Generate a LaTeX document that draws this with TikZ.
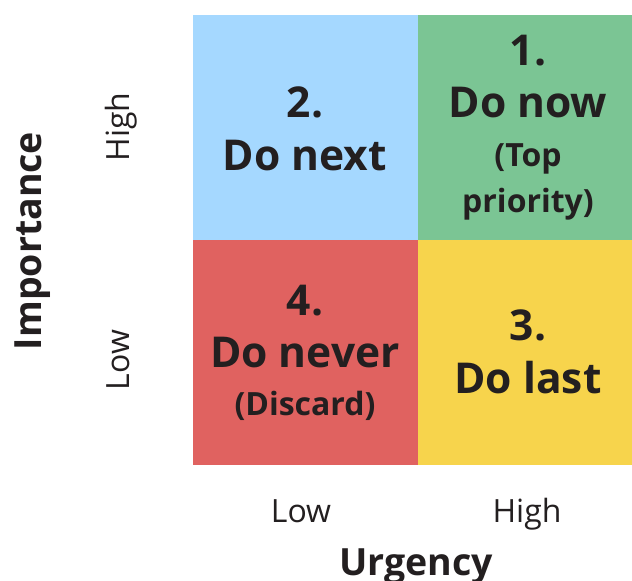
\documentclass[tikz,border=0pt]{standalone}
\usepackage{fontspec}
\setmainfont{Open Sans}
\definecolor{cblue}{HTML}{A5D8FF}
\definecolor{cgreen}{HTML}{7BC594}
\definecolor{cred}{HTML}{E06260}
\definecolor{cyellow}{HTML}{F7D44C}
\definecolor{ink}{HTML}{231F20}
\begin{document}
\begin{tikzpicture}[x=1pt,y=-1pt,
  big/.style={anchor=base,text=ink,font=\fontsize{42.5}{42.5}\selectfont\bfseries,inner sep=0pt},
  small/.style={anchor=base,text=ink,font=\fontsize{32}{32}\selectfont\bfseries,inner sep=0pt},
  axlab/.style={anchor=base,text=ink,font=\fontsize{32}{32}\selectfont,inner sep=0pt},
  axtitle/.style={anchor=base,text=ink,font=\fontsize{37.5}{37.5}\selectfont\bfseries,inner sep=0pt}]
\useasboundingbox (0,0) rectangle (632,581);
\begin{scope}
\clip (0,0) rectangle (632,581);
\fill[cblue] (193,15) rectangle (418,240);
\fill[cgreen] (418,15) rectangle (643,240);
\fill[cred] (193,240) rectangle (418,465);
\fill[cyellow] (418,240) rectangle (643,465);
\end{scope}
% cell 1
\node[big] (n1a) at (528,65) {1.};
\node[big] (n1b) at (528,117) {Do now};
\node[small] (n1c) at (528,166) {(Top};
\node[small] (n1d) at (528,212) {priority)};
% cell 2
\node[big] (n2a) at (305,117) {2.};
\node[big] (n2b) at (305,170) {Do next};
% cell 4
\node[big] (n4a) at (305,315) {4.};
\node[big] (n4b) at (305,367) {Do never};
\node[small] (n4c) at (305,415) {(Discard)};
% cell 3
\node[big] (n3a) at (528,340) {3.};
\node[big] (n3b) at (528,393) {Do last};
% axes
\node[axlab] (xl) at (301,522) {Low};
\node[axlab] (xh) at (527,522) {High};
\node[axtitle] (xt) at (416,575) {Urgency};
\node[axlab,rotate=90] (yh) at (129,127) {High};
\node[axlab,rotate=90] (yl) at (129,360) {Low};
\node[axtitle,rotate=90] (yt) at (41,241) {Importance};
\end{tikzpicture}
\end{document}
